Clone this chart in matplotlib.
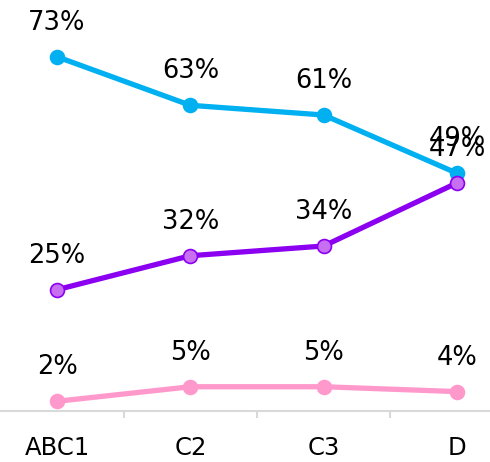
import matplotlib
matplotlib.use("Agg")
import matplotlib.pyplot as plt

categories = ["ABC1", "C2", "C3", "D"]
cyan_vals = [73, 63, 61, 49]
purple_vals = [25, 32, 34, 47]
pink_vals = [2, 5, 5, 4]

plt.rcParams['font.family'] = ['DejaVu Sans']

fig = plt.figure(figsize=(4.9, 4.62), dpi=100)
ax = fig.add_axes([0, 51 / 462, 1, 411 / 462])

x = list(range(len(categories)))

series = [
    (pink_vals, "#ff99cc", "#ff99cc", "#ff99cc"),
    (cyan_vals, "#00b0f0", "#00b0f0", "#00b0f0"),
    (purple_vals, "#8b00f0", "#c86ef0", "#8b00f0"),
]

for vals, lc, mfc, mec in series:
    ax.plot(x, vals, color=lc, linewidth=3.8, marker="o", markersize=10,
            markerfacecolor=mfc, markeredgecolor=mec, markeredgewidth=1.2,
            clip_on=False)
    for xi, v in zip(x, vals):
        ax.annotate(str(v) + "%", (xi, v), xytext=(0, 34), textcoords="offset pixels",
                    ha="center", va="center", fontsize=18.5, color="black")

ax.set_xlim(-0.428, 3.248)
ax.set_ylim(0, 84.7)

for s in ["top", "right", "left"]:
    ax.spines[s].set_visible(False)
ax.spines["bottom"].set_color("#d9d9d9")
ax.spines["bottom"].set_linewidth(1.5)

ax.set_yticks([])
ax.set_xticks(x)
ax.set_xticklabels(categories, fontsize=17.5, color="black")
ax.tick_params(axis="x", which="major", length=0, pad=18)
ax.set_xticks([0.5, 1.5, 2.5], minor=True)
ax.tick_params(axis="x", which="minor", length=5, width=1.5, color="#d9d9d9", direction="out")

fig.savefig("out.png", dpi=100)
